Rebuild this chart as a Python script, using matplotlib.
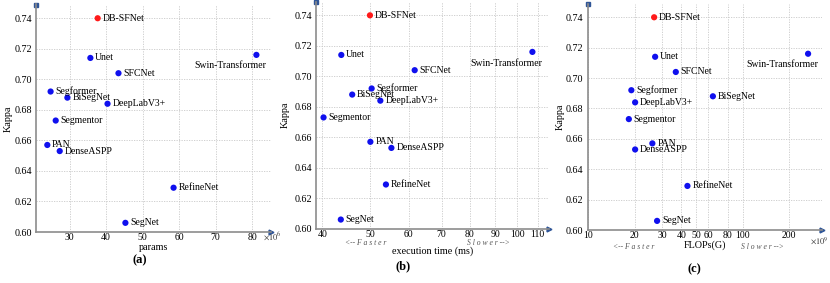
import matplotlib
matplotlib.use("Agg")
import matplotlib.pyplot as plt
from matplotlib.ticker import FixedLocator, NullLocator, FixedFormatter

plt.rcParams.update({"font.family": ["Liberation Serif", "DejaVu Serif"],
                     "mathtext.fontset": "stix"})

models = ["DB-SFNet", "Unet", "SFCNet", "Swin-Transformer", "Segformer", "BiSegNet",
          "DeepLabV3+", "Segmentor", "PAN", "DenseASPP", "RefineNet", "SegNet"]
kappa = [0.740, 0.714, 0.704, 0.716, 0.692, 0.688, 0.684, 0.673, 0.657, 0.653, 0.629, 0.606]
params = [37.7, 35.7, 43.4, 81.2, 24.8, 29.4, 40.4, 26.2, 23.9, 27.3, 58.5, 45.3]
exec_ms = [50.0, 43.7, 61.7, 107.3, 50.4, 46.0, 52.5, 40.2, 50.1, 55.3, 53.9, 43.6]
flops = [26.7, 27.1, 36.9, 266.0, 19.0, 64.2, 20.1, 18.3, 26.0, 20.1, 43.9, 27.9]
yticks = [0.60, 0.62, 0.64, 0.66, 0.68, 0.70, 0.72, 0.74]
ticks_a = [30, 40, 50, 60, 70, 80]
ticks_b = [40, 50, 60, 70, 80, 90, 100, 110]
ticks_c = [10, 20, 30, 40, 50, 60, 80, 100, 200]

W, H = 830, 283
fig = plt.figure(figsize=(8.3, 2.83), dpi=100)

def px_axes(x0, x1, ytop, ybot):
    ax = fig.add_axes([x0 / W, 1 - ybot / H, (x1 - x0) / W, (ybot - ytop) / H])
    ax._px = (x0, x1, ytop, ybot)
    return ax

SPINE = "#8c8c8c"; ARROW = "#2f5597"; GRIDC = "#c9c9c9"

def style(ax, xs, xticks, xlim, logx, xlabel, xlab_top, ylab_x):
    x0, x1, ytop, ybot = ax._px
    if logx:
        ax.set_xscale("log")
    ax.set_xlim(*xlim); ax.set_ylim(0.60, 0.749)
    ax.xaxis.set_major_locator(FixedLocator(xticks))
    ax.xaxis.set_major_formatter(FixedFormatter([str(t) for t in xticks]))
    ax.xaxis.set_minor_locator(NullLocator())
    ax.set_yticks(yticks); ax.set_yticklabels([f"{t:.2f}" for t in yticks])
    ax.tick_params(length=0, labelsize=7, pad=1)
    ax.tick_params(axis="y", labelsize=7.3, pad=3)
    ax.grid(True, ls=(0, (1.5, 1.5)), color=GRIDC, lw=0.6)
    ax.set_axisbelow(True)
    for s in ["top", "right"]:
        ax.spines[s].set_visible(False)
    for s in ["left", "bottom"]:
        ax.spines[s].set_color(SPINE); ax.spines[s].set_linewidth(1.2)
    ax.plot(1, 0, ">", color=ARROW, ms=3.5, transform=ax.transAxes, clip_on=False)
    ax.plot(0, 1, "s", color=ARROW, ms=2.2, transform=ax.transAxes, clip_on=False)
    cols = ["#ff1a1a" if m == "DB-SFNet" else "#1010ee" for m in models]
    ax.scatter(xs, kappa, s=20, c=cols, zorder=3, linewidths=0)
    for m, x, y in zip(models, xs, kappa):
        if m == "Swin-Transformer":
            ax.annotate(m, (x, y), xytext=(7, -8), textcoords="offset points",
                        ha="right", va="center", fontsize=7)
        else:
            ax.annotate(m, (x, y), xytext=(3.5, 0), textcoords="offset points",
                        ha="left", va="center", fontsize=7)
    ax.set_ylabel("Kappa", fontsize=7.3)
    ax.yaxis.set_label_coords((ylab_x + 4.5 - x0) / (x1 - x0), 0.5)
    ax.set_xlabel(xlabel, fontsize=7.3)
    ax.xaxis.set_label_coords(0.5, (ybot - xlab_top) / (ybot - ytop))

ax1 = px_axes(36, 271, 4.5, 232)
style(ax1, params, ticks_a, (20.8, 85.2), False, "params", 242.5, 8)
fig.text(272 / W, 1 - 236 / H, r"$\times10^6$", fontsize=6, ha="center", va="center", color="#333333")
fig.text(140 / W, 1 - 260 / H, "(a)", fontsize=9, fontweight="bold", ha="center", va="center")

ax2 = px_axes(316, 549, 1.6, 228.7)
style(ax2, exec_ms, ticks_b, (38.8, 116), True, "execution time (ms)", 246, 285)
fig.text(366 / W, 1 - 243 / H, "<-- F a s t e r", fontsize=5.5, style="italic", color="#555555", ha="center", va="center")
fig.text(488 / W, 1 - 243 / H, "S l o w e r -->", fontsize=5.5, style="italic", color="#555555", ha="center", va="center")
fig.text(403 / W, 1 - 266 / H, "(b)", fontsize=9, fontweight="bold", ha="center", va="center")

ax3 = px_axes(587.7, 821.7, 3.6, 230)
style(ax3, flops, ticks_c, (9.9, 326), True, "FLOPs(G)", 240.5, 560)
fig.text(634 / W, 1 - 247 / H, "<-- F a s t e r", fontsize=5.5, style="italic", color="#555555", ha="center", va="center")
fig.text(762 / W, 1 - 247 / H, "S l o w e r -->", fontsize=5.5, style="italic", color="#555555", ha="center", va="center")
fig.text(819 / W, 1 - 241 / H, r"$\times10^9$", fontsize=6, ha="center", va="center", color="#333333")
fig.text(694 / W, 1 - 269 / H, "(c)", fontsize=9, fontweight="bold", ha="center", va="center")

fig.savefig("out.png", dpi=100, facecolor="white")
